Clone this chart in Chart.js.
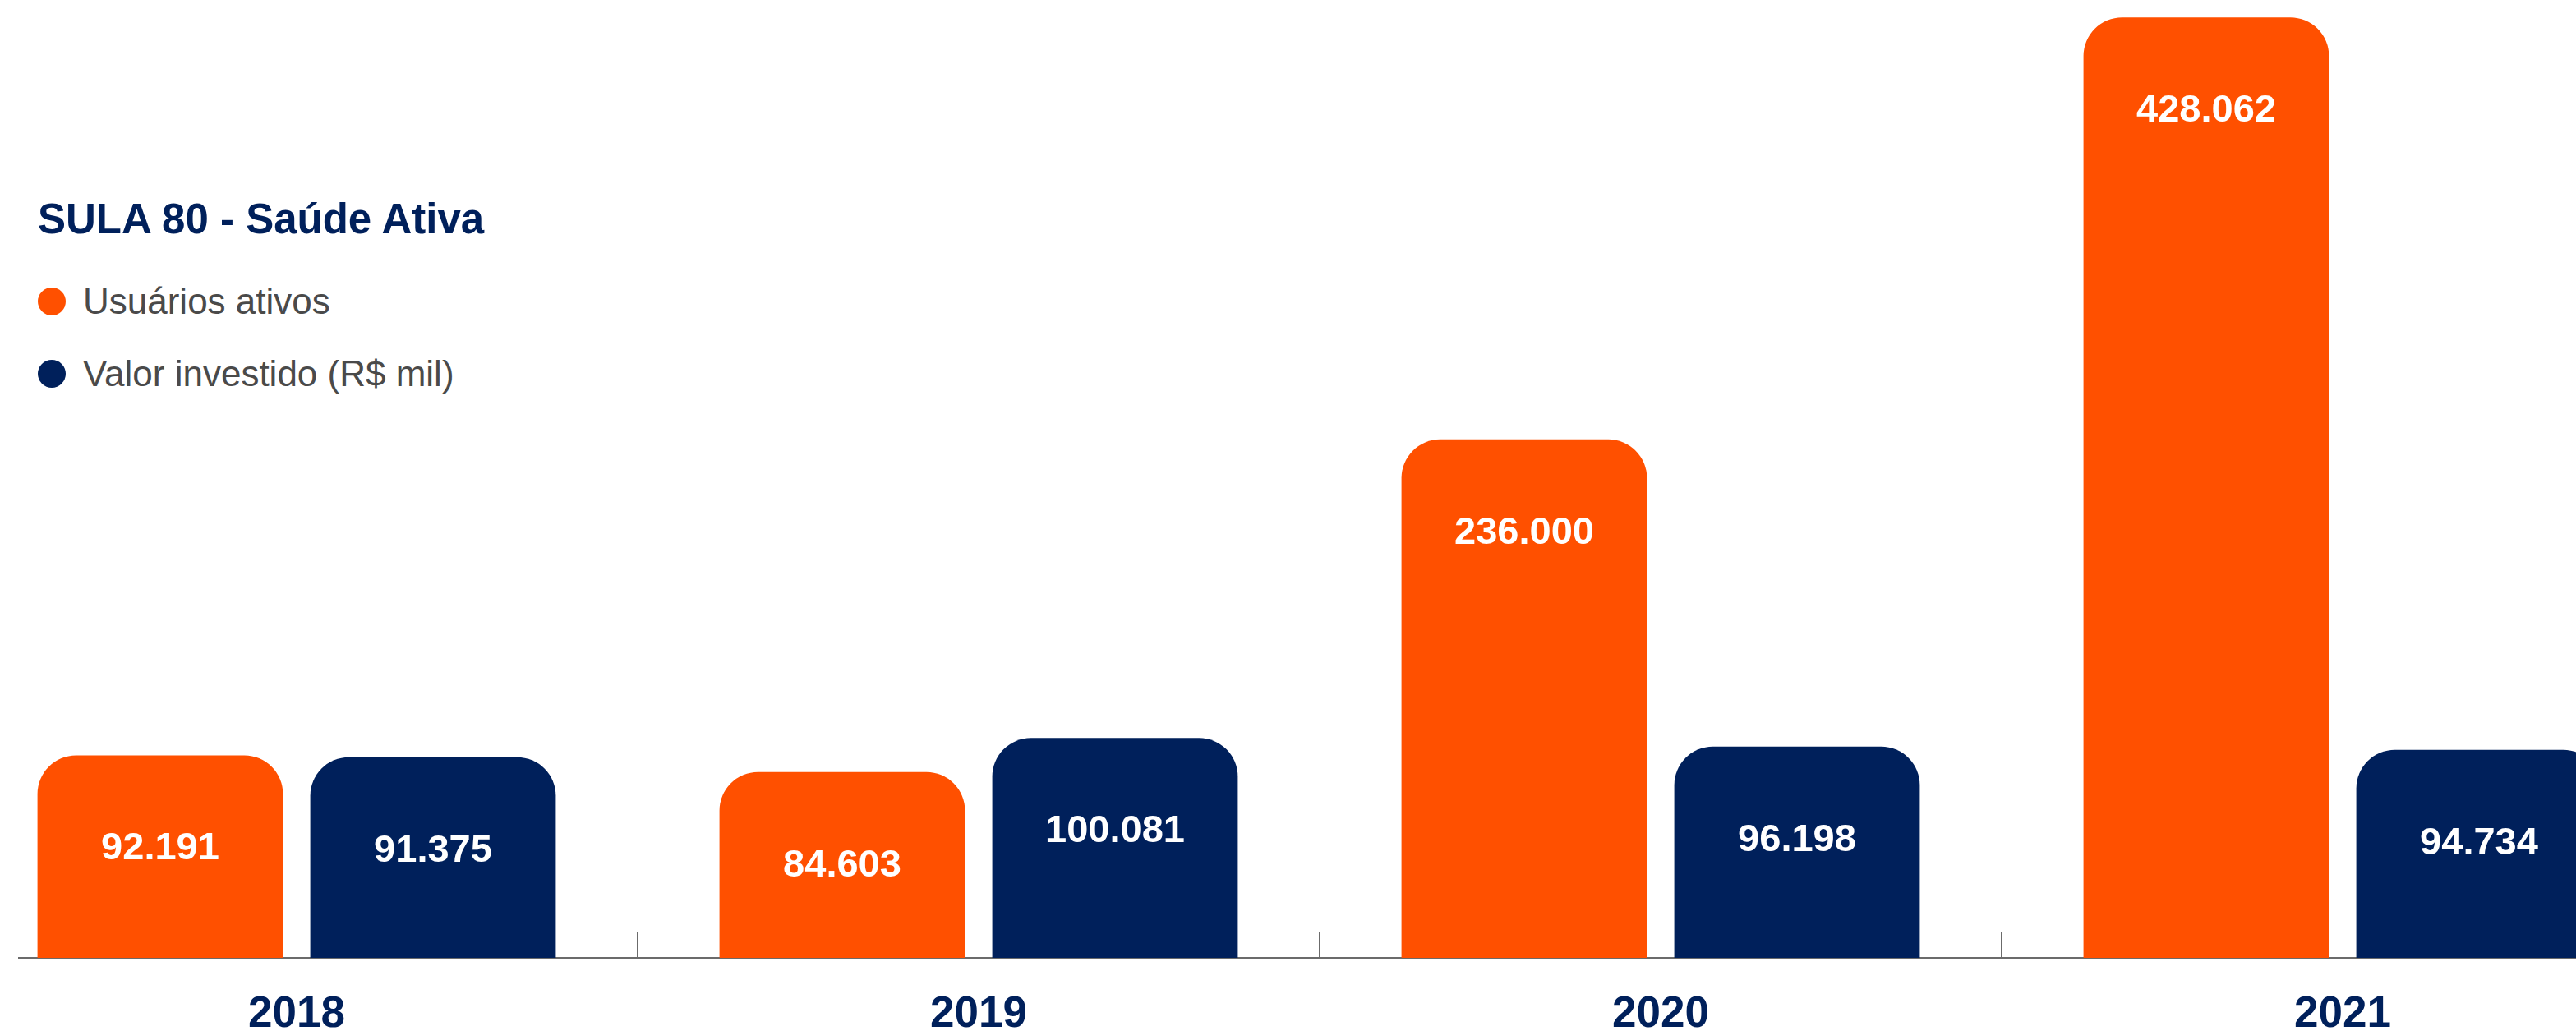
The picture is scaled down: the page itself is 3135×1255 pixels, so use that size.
<!DOCTYPE html>
<html lang="pt-BR">
<head>
<meta charset="utf-8">
<title>SULA 80 - Saúde Ativa</title>
<script src="https://cdn.jsdelivr.net/npm/chart.js@4.4.1/dist/chart.umd.min.js"></script>
<style>
    html, body { margin: 0; padding: 0; background: #fff; }
    body { width: 3135px; height: 1255px; overflow: hidden; position: relative; font-family: "Liberation Sans", Arial, sans-serif; }
    #grafico { position: absolute; left: -54px; top: 0; }
    .titulo { position: absolute; left: 46px; top: 236px; font-size: 51px; line-height: 62px; font-weight: bold; color: #00205B; white-space: nowrap; }
    .legenda { position: absolute; left: 46px; top: 340px; }
    .legenda-item { display: flex; align-items: center; height: 54px; margin-bottom: 34px; font-size: 44px; color: #4a4a4a; white-space: nowrap; }
    .legenda-item span.bola { width: 34px; height: 34px; border-radius: 50%; margin-right: 21px; }
</style>
</head>
<body>
<div class="titulo">SULA 80 - Saúde Ativa</div>
<div class="legenda" id="legenda"></div>
<canvas id="grafico" width="3320" height="1255"></canvas>
<script>
    "use strict";

    // dados
    var anos = ['2018', '2019', '2020', '2021'];
    var usuariosAtivos = [92191, 84603, 236000, 428062];
    var valorInvestido = [91375, 100081, 96198, 94734];

    var LARANJA = '#FF5000';
    var AZUL = '#00205B';

    function formatarNumero(v) {
        return String(v).replace(/\B(?=(\d{3})+(?!\d))/g, '.');
    }

    // linha de base e marcas entre os anos
    var eixoPlugin = {
        id: 'eixoPlugin',
        beforeDatasetsDraw: function (chart) {
            var ctx = chart.ctx;
            var xScale = chart.scales.x;
            var base = chart.chartArea.bottom;
            ctx.save();
            ctx.strokeStyle = '#6b6b6b';
            ctx.lineWidth = 2;
            ctx.beginPath();
            ctx.moveTo(76, base);
            ctx.lineTo(chart.width, base);
            ctx.stroke();
            for (var i = 0; i < anos.length - 1; i++) {
                var x = Math.round((xScale.getPixelForValue(i) + xScale.getPixelForValue(i + 1)) / 2);
                ctx.beginPath();
                ctx.moveTo(x, base);
                ctx.lineTo(x, base - 32);
                ctx.stroke();
            }
            ctx.restore();
        }
    };

    // valores em branco dentro das barras
    var valoresPlugin = {
        id: 'valoresPlugin',
        afterDatasetsDraw: function (chart) {
            var ctx = chart.ctx;
            ctx.save();
            ctx.fillStyle = '#ffffff';
            ctx.font = 'bold 47px "Liberation Sans", Arial, sans-serif';
            ctx.textAlign = 'center';
            ctx.textBaseline = 'middle';
            chart.data.datasets.forEach(function (ds, di) {
                var meta = chart.getDatasetMeta(di);
                meta.data.forEach(function (bar, i) {
                    ctx.fillText(formatarNumero(ds.data[i]), bar.x, bar.y + 114);
                });
            });
            ctx.restore();
        }
    };

    var ctxGrafico = document.getElementById('grafico').getContext('2d');
    var grafico = new Chart(ctxGrafico, {
        type: 'bar',
        data: {
            labels: anos,
            datasets: [
                {
                    label: 'Usuários ativos',
                    data: usuariosAtivos,
                    backgroundColor: LARANJA,
                    borderRadius: { topLeft: 47, topRight: 47, bottomLeft: 0, bottomRight: 0 },
                    borderSkipped: 'start'
                },
                {
                    label: 'Valor investido (R$ mil)',
                    data: valorInvestido,
                    backgroundColor: AZUL,
                    borderRadius: { topLeft: 47, topRight: 47, bottomLeft: 0, bottomRight: 0 },
                    borderSkipped: 'start'
                }
            ]
        },
        options: {
            responsive: false,
            animation: false,
            devicePixelRatio: 1,
            layout: { padding: 0 },
            categoryPercentage: 0.8,
            barPercentage: 0.9,
            plugins: {
                legend: { display: false },
                title: { display: false },
                tooltip: { enabled: false }
            },
            scales: {
                x: {
                    grid: { display: false, drawTicks: false },
                    border: { display: false },
                    ticks: {
                        color: AZUL,
                        padding: 38,
                        font: { family: '"Liberation Sans", Arial, sans-serif', size: 53, weight: 'bold' }
                    },
                    afterFit: function (scale) { scale.height = 89; }
                },
                y: {
                    display: false,
                    min: 0,
                    max: 436000
                }
            }
        },
        plugins: [eixoPlugin, valoresPlugin]
    });

    // legenda em HTML a partir das séries
    var legenda = document.getElementById('legenda');
    grafico.data.datasets.forEach(function (ds) {
        var item = document.createElement('div');
        item.className = 'legenda-item';
        var bola = document.createElement('span');
        bola.className = 'bola';
        bola.style.background = ds.backgroundColor;
        var texto = document.createElement('span');
        texto.textContent = ds.label;
        item.appendChild(bola);
        item.appendChild(texto);
        legenda.appendChild(item);
    });
</script>
</body>
</html>
